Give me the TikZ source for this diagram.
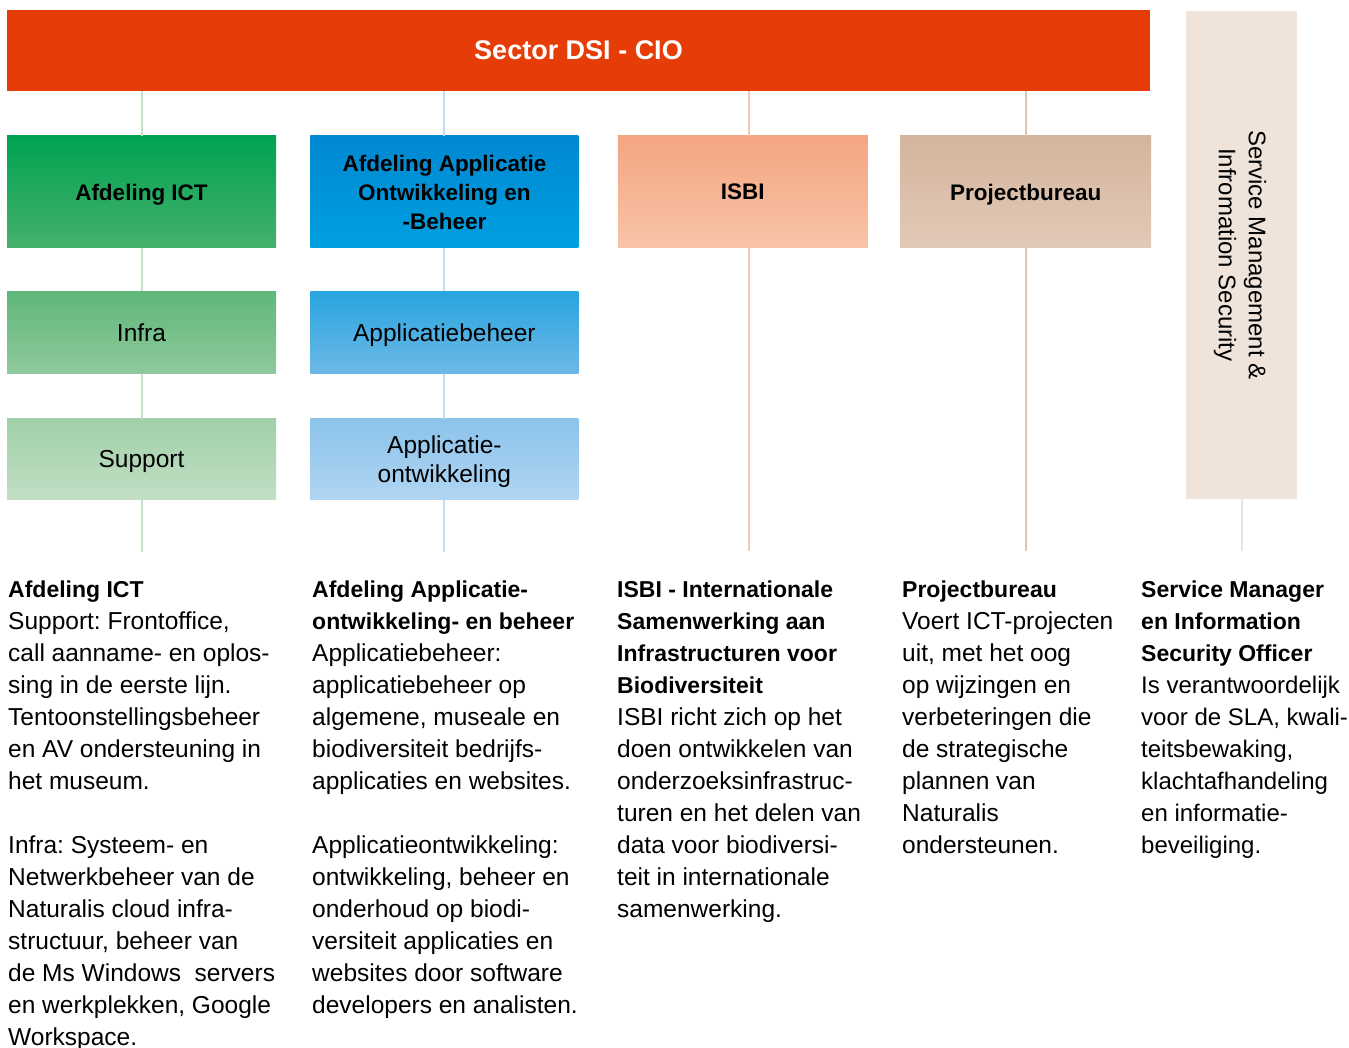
\documentclass[tikz,border=0pt]{standalone}
\usepackage{fontspec}
\setmainfont{Liberation Sans}
\frenchspacing
\usetikzlibrary{positioning}
\definecolor{dsired}{HTML}{E63D08}
\definecolor{ictA}{HTML}{00A352}
\definecolor{ictB}{HTML}{07A659}
\definecolor{ictC}{HTML}{46B06C}
\definecolor{infraA}{HTML}{60B77A}
\definecolor{infraB}{HTML}{8FC99D}
\definecolor{supportA}{HTML}{A0D0A8}
\definecolor{supportB}{HTML}{C2DFC4}
\definecolor{appsA}{HTML}{0088D1}
\definecolor{appsB}{HTML}{009FE0}
\definecolor{beheerA}{HTML}{28A5DF}
\definecolor{beheerB}{HTML}{6DB8E7}
\definecolor{ontwA}{HTML}{8CC3EB}
\definecolor{ontwB}{HTML}{B0D5F2}
\definecolor{isbiA}{HTML}{F4A582}
\definecolor{isbiB}{HTML}{F8C4A7}
\definecolor{projA}{HTML}{D4B49C}
\definecolor{projB}{HTML}{E2CAB8}
\definecolor{sidefill}{HTML}{F0E3D9}
\definecolor{ictline}{HTML}{C4E2C6}
\definecolor{appsline}{HTML}{C0DDF3}
\definecolor{isbiline}{HTML}{F2C8AE}
\definecolor{projline}{HTML}{DBC5B3}
\definecolor{sideline}{HTML}{EEE3DB}
\newcommand{\hd}[1]{{\fontsize{23}{32}\selectfont\bfseries #1}}

\begin{document}
\begin{tikzpicture}[x=1pt,y=-1pt,node distance=43pt,
	box/.style={rectangle,inner sep=0pt,align=center,text=black,text depth=0pt,font=\fontsize{24.5}{29}\selectfont},
	head box/.style={box,font=\fontsize{22.5}{29}\selectfont\bfseries,minimum height=112pt},
	sub box/.style={box,minimum height=82pt},
	conn/.style={line width=2pt},
	info/.style={anchor=north west,inner sep=0pt,align=left,text=black,font=\fontsize{24.5}{32}\selectfont}]
	\path[fill=white] (0,0) rectangle (1349,1048);
	\useasboundingbox (0,0) rectangle (1349,1048);

	\node[box,minimum width=1143pt,minimum height=81pt,fill=dsired,text=white,font=\fontsize{27}{32}\selectfont\bfseries] (dsi) at (578.5,50.5) {Sector DSI - CIO};

	\node[head box,minimum width=269pt,top color=ictA,middle color=ictB,bottom color=ictC] (ict) at (141.5,192) {Afdeling ICT};
	\node[sub box,minimum width=269pt,top color=infraA,bottom color=infraB] (infra) [below=43pt of ict] {Infra};
	\node[sub box,minimum width=269pt,minimum height=81pt,top color=supportA,bottom color=supportB] (support) [below=45pt of infra] {Support};

	\node[head box,minimum width=268pt,top color=appsA,bottom color=appsB] (apps) [right=34pt of ict] {Afdeling Applicatie\\Ontwikkeling en\\-Beheer};
	\node[sub box,minimum width=268pt,top color=beheerA,bottom color=beheerB] (beheer) [below=43pt of apps] {Applicatiebeheer};
	\node[sub box,minimum width=268pt,minimum height=81pt,top color=ontwA,bottom color=ontwB] (ontw) [below=45pt of beheer] {Applicatie-\\ontwikkeling};

	\node[head box,minimum width=250pt,top color=isbiA,bottom color=isbiB] (isbi) [right=39pt of apps] {ISBI};
	\node[head box,minimum width=251pt,top color=projA,bottom color=projB] (proj) [right=32pt of isbi] {Projectbureau};

	\node[box,minimum width=111pt,minimum height=488pt,fill=sidefill] (side) at (1241.5,255) {};
	\node[rectangle,inner sep=0pt,align=center,rotate=-90,font=\fontsize{24}{30}\selectfont] (sidetext) at (1240,255) {Service Management \&\\Infromation Security};

	\coordinate[below=52pt of support] (ictend);
	\coordinate[below=52pt of ontw] (appsend);
	\coordinate (isbiend) at (749,551);
	\coordinate[below=303pt of proj] (projend);
	\coordinate[below=52pt of side] (sideend);

	\draw[conn,ictline] (dsi.south -| ict.north) -- (ict.north);
	\draw[conn,ictline] (ict) -- (infra);
	\draw[conn,ictline] (infra) -- (support);
	\draw[conn,ictline] (support) -- (ictend);
	\draw[conn,appsline] (dsi.south -| apps.north) -- (apps.north);
	\draw[conn,appsline] (apps) -- (beheer);
	\draw[conn,appsline] (beheer) -- (ontw);
	\draw[conn,appsline] (ontw) -- (appsend);
	\draw[conn,isbiline] (dsi.south -| isbiend) -- (isbi.north -| isbiend);
	\draw[conn,isbiline] (isbi.south -| isbiend) -- (isbiend);
	\draw[conn,projline] (dsi.south -| proj.north) -- (proj.north);
	\draw[conn,projline] (proj) -- (projend);
	\draw[conn,sideline] (side) -- (sideend);

	\node[info] (ictinfo) at (8,574.6) {\strut\hd{Afdeling ICT}\\
		Support: Frontoffice,\\
		call aanname- en oplos-\\
		sing in de eerste lijn.\\
		Tentoonstellingsbeheer\\
		en AV ondersteuning in\\
		het museum.\\[32pt]
		Infra: Systeem- en\\
		Netwerkbeheer van de\\
		Naturalis cloud infra-\\
		structuur, beheer van\\
		de Ms Windows\ \ servers\\
		en werkplekken, Google\\
		Workspace.};
	\node[info] (appsinfo) at (312,574.6) {\strut\hd{Afdeling Applicatie-}\\
		\hd{ontwikkeling- en beheer}\\
		Applicatiebeheer:\\
		applicatiebeheer op\\
		algemene, museale en\\
		biodiversiteit bedrijfs-\\
		applicaties en websites.\\[32pt]
		Applicatieontwikkeling:\\
		ontwikkeling, beheer en\\
		onderhoud op biodi-\\
		versiteit applicaties en\\
		websites door software\\
		developers en analisten.};
	\node[info] (isbiinfo) at (617,574.6) {\strut\hd{ISBI - Internationale}\\
		\hd{Samenwerking aan}\\
		\hd{Infrastructuren voor}\\
		\hd{Biodiversiteit}\\
		ISBI richt zich op het\\
		doen ontwikkelen van\\
		onderzoeksinfrastruc-\\
		turen en het delen van\\
		data voor biodiversi-\\
		teit in internationale\\
		samenwerking.};
	\node[info] (projinfo) at (902,574.6) {\strut\hd{Projectbureau}\\
		Voert ICT-projecten\\
		uit, met het oog\\
		op wijzingen en\\
		verbeteringen die\\
		de strategische\\
		plannen van\\
		Naturalis\\
		ondersteunen.};
	\node[info,font=\fontsize{24}{32}\selectfont] (sideinfo) at (1141,574.6) {\strut\hd{Service Manager}\\
		\hd{en Information}\\
		\hd{Security Officer}\\
		Is verantwoordelijk\\
		voor de SLA, kwali-\\
		teitsbewaking,\\
		klachtafhandeling\\
		en informatie-\\
		beveiliging.};
\end{tikzpicture}
\end{document}
